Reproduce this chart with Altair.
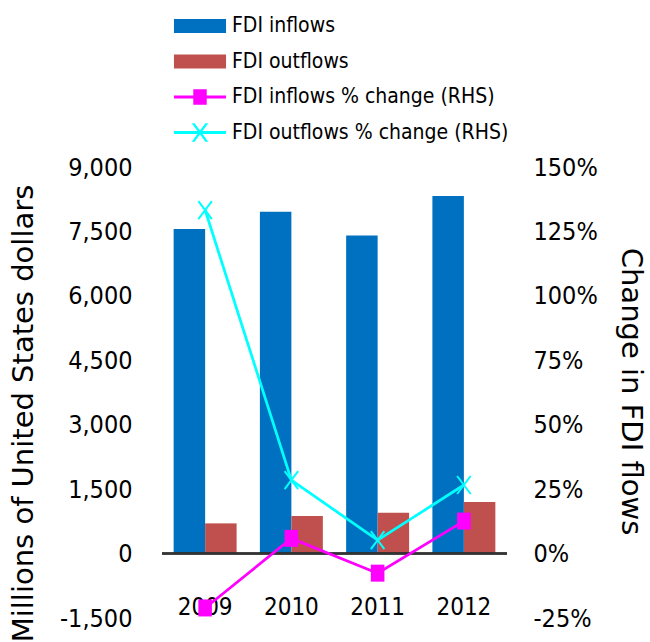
import altair as alt
import pandas as pd

years = ["2009", "2010", "2011", "2012"]
fdi_inflows = [7555, 7958, 7408, 8323]
fdi_outflows = [703, 873, 950, 1199]
inflows_pct = [-0.211, 0.059, -0.076, 0.126]
outflows_pct = [1.333, 0.285, 0.052, 0.266]

series = ["FDI inflows", "FDI outflows",
          "FDI inflows % change (RHS)", "FDI outflows % change (RHS)"]
colors = ["#0070C0", "#C0504D", "#FF00FF", "#00FFFF"]

left_ticks = [-1500, 0, 1500, 3000, 4500, 6000, 7500, 9000]
right_ticks = [-0.25, 0, 0.25, 0.5, 0.75, 1.0, 1.25, 1.5]

bars_df = pd.DataFrame({
    "year": years * 2,
    "series": [series[0]] * 4 + [series[1]] * 4,
    "value": fdi_inflows + fdi_outflows,
})
lines_df = pd.DataFrame({
    "year": years * 2,
    "series": [series[2]] * 4 + [series[3]] * 4,
    "pct": inflows_pct + outflows_pct,
})

NARROW = "DejaVu Sans Condensed, Liberation Sans Narrow, sans-serif"
WIDE = "DejaVu Sans, Verdana, sans-serif"
MINUS = "\u2212"

shape_expr = (
    "datum.value === 'FDI inflows' || datum.value === 'FDI outflows' ? 'M-2.17,-0.58H2.17V0.58H-2.17Z' : "
    "datum.value === 'FDI inflows % change (RHS)' ? "
    "'M-2.17,-0.12H2.17V0.12H-2.17Z M-0.56,-0.65H0.56V0.65H-0.56Z' : "
    "'M-2.17,-0.12H2.17V0.12H-2.17Z M-0.69,-0.78L-0.45,-0.78L0.69,0.78L0.45,0.78Z M0.45,-0.78L0.69,-0.78L-0.45,0.78L-0.69,0.78Z'"
)

legend = alt.Legend(
    title=None, orient="none", legendX=26, legendY=-153,
    symbolSize=576, symbolStrokeWidth=0, padding=0,
    symbolType=alt.ExprRef(shape_expr),
    symbolFillColor=alt.ExprRef("scale('color', datum.value)"),
    symbolStrokeColor="transparent", symbolOpacity=1,
    labelFont=NARROW, labelFontSize=21, labelColor="black",
    labelOffset=20, rowPadding=13.5, labelLimit=500,
)

color = alt.Color("series:N", scale=alt.Scale(domain=series, range=colors),
                  sort=series, legend=legend)

bars = alt.Chart(bars_df).mark_bar().encode(
    x=alt.X("year:N", sort=years, title=None,
            scale=alt.Scale(paddingInner=0.27, paddingOuter=0.135),
            axis=alt.Axis(labelFont=NARROW, labelFontSize=24, labelColor="black",
                          domain=False, ticks=False, labelAngle=0,
                          labelBaseline="top", labelPadding=0, offset=-23)),
    xOffset=alt.XOffset("series:N", sort=series[:2],
                        scale=alt.Scale(paddingInner=0, paddingOuter=0)),
    y=alt.Y("value:Q", title="Millions of United States dollars",
            scale=alt.Scale(domain=[-1500, 9000], nice=False, zero=False),
            axis=alt.Axis(values=left_ticks,
                          labelExpr=f"replace(format(datum.value, ',.0f'), '{MINUS}', '-')",
                          grid=False, domain=False,
                          ticks=False, tickSize=0, labelPadding=30, orient="left",
                          labelFont=NARROW, labelFontSize=25, labelColor="black",
                          titleFont=WIDE, titleFontSize=29, titleFontWeight="normal",
                          titleColor="black", titleAngle=-90, titleX=-139, titleY=246,
                          titleAlign="center", titleBaseline="middle")),
    color=color,
)

zero_rule = alt.Chart(bars_df).mark_rule(color="#333333", strokeWidth=1.4).encode(
    y=alt.Y(datum=0),
)

left = alt.layer(bars, zero_rule)

lines = alt.Chart(lines_df).mark_line(strokeWidth=2.75).encode(
    x=alt.X("year:N", sort=years, title=None),
    y=alt.Y("pct:Q", title="Change in FDI flows",
            scale=alt.Scale(domain=[-0.25, 1.5], nice=False, zero=False),
            axis=alt.Axis(values=right_ticks,
                          labelExpr=f"replace(format(datum.value, '.0%'), '{MINUS}', '-')",
                          grid=False, domain=False,
                          ticks=False, tickSize=0, labelPadding=26, orient="right",
                          labelFont=NARROW, labelFontSize=25, labelColor="black",
                          titleFont=WIDE, titleFontSize=29, titleFontWeight="normal",
                          titleColor="black", titleAngle=90, titleX=123, titleY=224,
                          titleAlign="center", titleBaseline="middle")),
    color=color,
)

pts_in = alt.Chart(lines_df).transform_filter(
    alt.datum.series == series[2]
).mark_point(shape="M-0.8,-1H0.8V1H-0.8Z", filled=True, size=289,
             color="#FF00FF", opacity=1, strokeWidth=0).encode(
    x=alt.X("year:N", sort=years, title=None),
    y=alt.Y("pct:Q"),
)

pts_out = alt.Chart(lines_df).transform_filter(
    alt.datum.series == series[3]
).mark_point(shape="M-0.75,-1L0.75,1M-0.75,1L0.75,-1", filled=False, size=324,
             color="#00FFFF", opacity=1, strokeWidth=2).encode(
    x=alt.X("year:N", sort=years, title=None),
    y=alt.Y("pct:Q"),
)

right = alt.layer(lines, pts_in, pts_out)

chart = alt.layer(left, right).resolve_scale(y="independent").properties(
    width=345, height=451,
    autosize=alt.AutoSizeParams(type="none"),
    padding={"left": 162, "top": 167, "right": 143, "bottom": 24},
    background="white",
).configure_view(stroke=None)

chart.save("out.html", embed_options={"renderer": "svg", "actions": False})
